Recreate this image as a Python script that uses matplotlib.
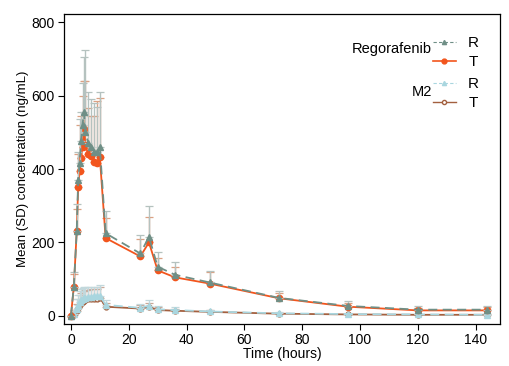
import matplotlib
matplotlib.use("Agg")
import matplotlib.pyplot as plt
import numpy as np
from matplotlib.lines import Line2D

plt.rcParams['font.family'] = ['Liberation Sans', 'DejaVu Sans']

time = [0, 1, 2, 2.5, 3, 3.5, 4, 4.5, 5, 6, 7, 8, 9, 10, 12, 24, 27, 30, 36, 48, 72, 96, 120, 144]

rego_R = [0, 80, 230, 370, 415, 475, 520, 555, 500, 470, 460, 445, 445, 460, 225, 170, 215, 134, 112, 91, 49, 27, 17, 17]
rego_R_sd = [0, 40, 75, 75, 120, 80, 115, 150, 225, 140, 130, 135, 125, 150, 60, 50, 85, 40, 35, 30, 20, 13, 9, 10]
rego_T = [0, 80, 230, 350, 395, 430, 460, 510, 465, 440, 435, 420, 415, 432, 212, 162, 200, 124, 105, 88, 48, 25, 15, 15]
rego_T_sd = [0, 35, 60, 90, 125, 115, 140, 130, 175, 125, 110, 125, 170, 160, 55, 48, 70, 33, 28, 32, 14, 9, 6, 9]

m2_R = [0, 5, 20, 30, 38, 42, 45, 48, 50, 52, 52, 53, 53, 55, 30, 22, 28, 18, 16, 12, 7, 5, 4, 3]
m2_R_sd = [0, 10, 25, 28, 30, 30, 32, 30, 30, 28, 28, 26, 26, 30, 12, 10, 14, 8, 7, 5, 3, 2, 2, 2]
m2_T = [0, 3, 12, 22, 30, 35, 38, 40, 42, 45, 46, 47, 47, 50, 25, 20, 24, 16, 14, 11, 6, 4, 3, 3]
m2_T_sd = [0, 8, 20, 24, 26, 28, 30, 28, 28, 26, 26, 25, 25, 28, 10, 9, 12, 7, 6, 5, 3, 2, 2, 2]

c_rR = '#6f8f86'
c_rT = '#f2551d'
c_mR = '#a9d6df'
c_mT = '#a3603f'
e_rR = '#b5c2bf'
e_rT = '#dba183'
e_mR = '#c2d8dc'
e_mT = '#c9a797'

fig = plt.figure(figsize=(5.1, 3.66), dpi=100)
ax = fig.add_axes([0.1255, 0.1148, 0.8545, 0.8469])

def draw(y, sd, color, ecolor, marker, ls, mfc, ms, z):
    ax.errorbar(time, y, yerr=[np.zeros(len(sd)), sd], fmt='none', ecolor=ecolor,
                elinewidth=1.0, capsize=3, capthick=0.9, zorder=z)
    ax.plot(time, y, color=color, ls=ls, lw=1.3, marker=marker, ms=ms,
            mfc=mfc, mec=color, mew=1.0, zorder=z + 1)

draw(m2_T, m2_T_sd, c_mT, e_mT, 'o', '-', 'white', 3.5, 2)
draw(m2_R, m2_R_sd, c_mR, e_mR, '^', (0, (5, 3)), c_mR, 4.5, 4)
draw(rego_T, rego_T_sd, c_rT, e_rT, 'o', '-', c_rT, 4.5, 6)
draw(rego_R, rego_R_sd, c_rR, e_rR, '^', (0, (5, 3)), c_rR, 4.5, 8)

ax.set_xlim(-2.4, 148.4)
ax.set_ylim(-22, 822)
ax.set_xticks([0, 20, 40, 60, 80, 100, 120, 140])
ax.set_yticks([0, 200, 400, 600, 800])
ax.tick_params(direction='out', length=4.5, width=0.8, labelsize=10, pad=2)
for s in ax.spines.values():
    s.set_linewidth(0.9)
ax.set_xlabel('Time (hours)', fontsize=10, labelpad=0)
ax.set_ylabel('Mean (SD) concentration (ng/mL)', fontsize=9.5, labelpad=2)

h1 = [Line2D([], [], color=c_rR, ls=(0, (3, 2)), lw=0.8, marker='^', ms=3, mfc=c_rR, mec=c_rR),
      Line2D([], [], color=c_rT, ls='-', lw=1.2, marker='o', ms=3.5, mfc=c_rT, mec=c_rT)]
h2 = [Line2D([], [], color=c_mR, ls=(0, (3, 2)), lw=0.8, marker='^', ms=3, mfc=c_mR, mec=c_mR),
      Line2D([], [], color=c_mT, ls='-', lw=1.0, marker='o', ms=3, mfc='white', mec=c_mT)]
kw = dict(frameon=False, fontsize=11, handlelength=1.5, handletextpad=0.8,
          labelspacing=0.35, borderaxespad=0, borderpad=0)
leg1 = ax.legend(h1, ['R', 'T'], loc='upper left',
                 bbox_to_anchor=(433 / 510, 1 - 36 / 366), bbox_transform=fig.transFigure, **kw)
ax.add_artist(leg1)
leg2 = ax.legend(h2, ['R', 'T'], loc='upper left',
                 bbox_to_anchor=(433 / 510, 1 - 77 / 366), bbox_transform=fig.transFigure, **kw)
fig.text(432 / 510, 1 - 49 / 366, 'Regorafenib', ha='right', va='center', fontsize=10.5)
fig.text(432 / 510, 1 - 92 / 366, 'M2', ha='right', va='center', fontsize=10.5)

fig.savefig('out.png', dpi=100)
